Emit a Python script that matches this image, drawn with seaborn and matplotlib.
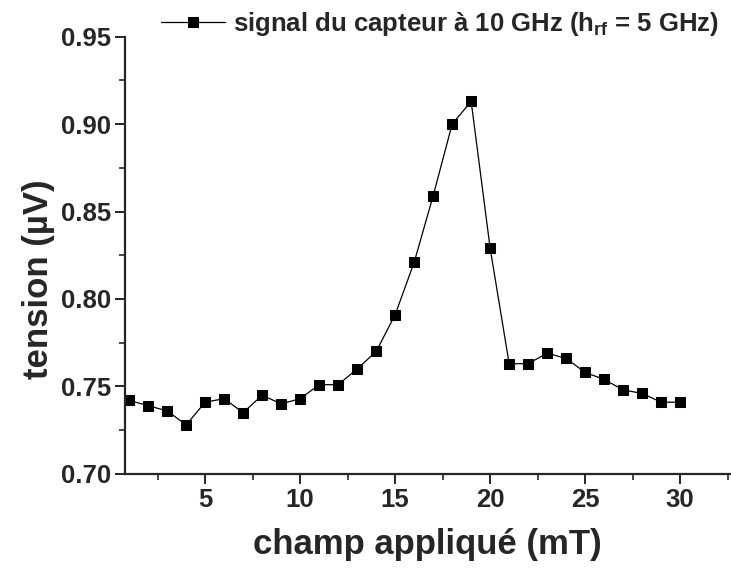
import numpy as np
import pandas as pd
import matplotlib
matplotlib.use('Agg')
import matplotlib.pyplot as plt
import seaborn as sns
from matplotlib.ticker import MultipleLocator, FormatStrFormatter

# data
champ = [1, 2, 3, 4, 5, 6, 7, 8, 9, 10,
         11, 12, 13, 14, 15, 16, 17, 18, 19, 20,
         21, 22, 23, 24, 25, 26, 27, 28, 29, 30]
tension = [0.742, 0.739, 0.736, 0.728, 0.741, 0.743, 0.735, 0.745, 0.740, 0.743,
           0.751, 0.751, 0.760, 0.770, 0.791, 0.821, 0.859, 0.900, 0.913, 0.829,
           0.763, 0.763, 0.769, 0.766, 0.758, 0.754, 0.748, 0.746, 0.741, 0.741]
serie = 'signal du capteur à 10 GHz (h$_{\\mathbf{rf}}$ = 5 GHz)'
xticks = [5, 10, 15, 20, 25, 30]

df = pd.DataFrame({'champ': champ, 'tension': tension})

sns.set_style('ticks')
plt.rcParams['font.family'] = ['Liberation Sans', 'DejaVu Sans']
plt.rcParams['font.weight'] = 'bold'
plt.rcParams['mathtext.fontset'] = 'custom'
plt.rcParams['mathtext.rm'] = 'Liberation Sans:bold'
plt.rcParams['mathtext.bf'] = 'Liberation Sans:bold'
plt.rcParams['mathtext.it'] = 'Liberation Sans:bold'

fig = plt.figure(figsize=(7.31, 5.73), dpi=100)
ax = fig.add_axes([0.171, 0.173, 0.827, 0.763])

sns.lineplot(data=df, x='champ', y='tension', ax=ax, color='black',
             linewidth=0.9, marker='s', markersize=6.5, markeredgecolor='black',
             label=serie)

ax.set_xlim(0.78, 32.6)
ax.set_ylim(0.70, 0.95)
ax.set_xticks(xticks)
ax.xaxis.set_minor_locator(MultipleLocator(2.5))
ax.yaxis.set_major_locator(MultipleLocator(0.05))
ax.yaxis.set_minor_locator(MultipleLocator(0.025))
ax.yaxis.set_major_formatter(FormatStrFormatter('%.2f'))

for s in ['top', 'right']:
    ax.spines[s].set_visible(False)
for s in ['left', 'bottom']:
    ax.spines[s].set_linewidth(1.6)
ax.tick_params(which='major', length=7, width=1.4, labelsize=18.5, pad=3)
ax.tick_params(which='minor', length=4, width=1.2)
for lab in ax.get_xticklabels() + ax.get_yticklabels():
    lab.set_fontweight('bold')

ax.set_xlabel('champ appliqué (mT)', fontsize=25, fontweight='bold', labelpad=12)
ax.set_ylabel('tension (µV)', fontsize=25, fontweight='bold')
ax.yaxis.set_label_coords(-0.115, 0.445)

leg = ax.legend(loc='upper right', bbox_to_anchor=(1.0, 1.085), frameon=False,
                fontsize=18.5, handlelength=2.5, handletextpad=0.3, borderaxespad=0)
for t in leg.get_texts():
    t.set_fontweight('bold')

fig.savefig('out.png', dpi=100)
